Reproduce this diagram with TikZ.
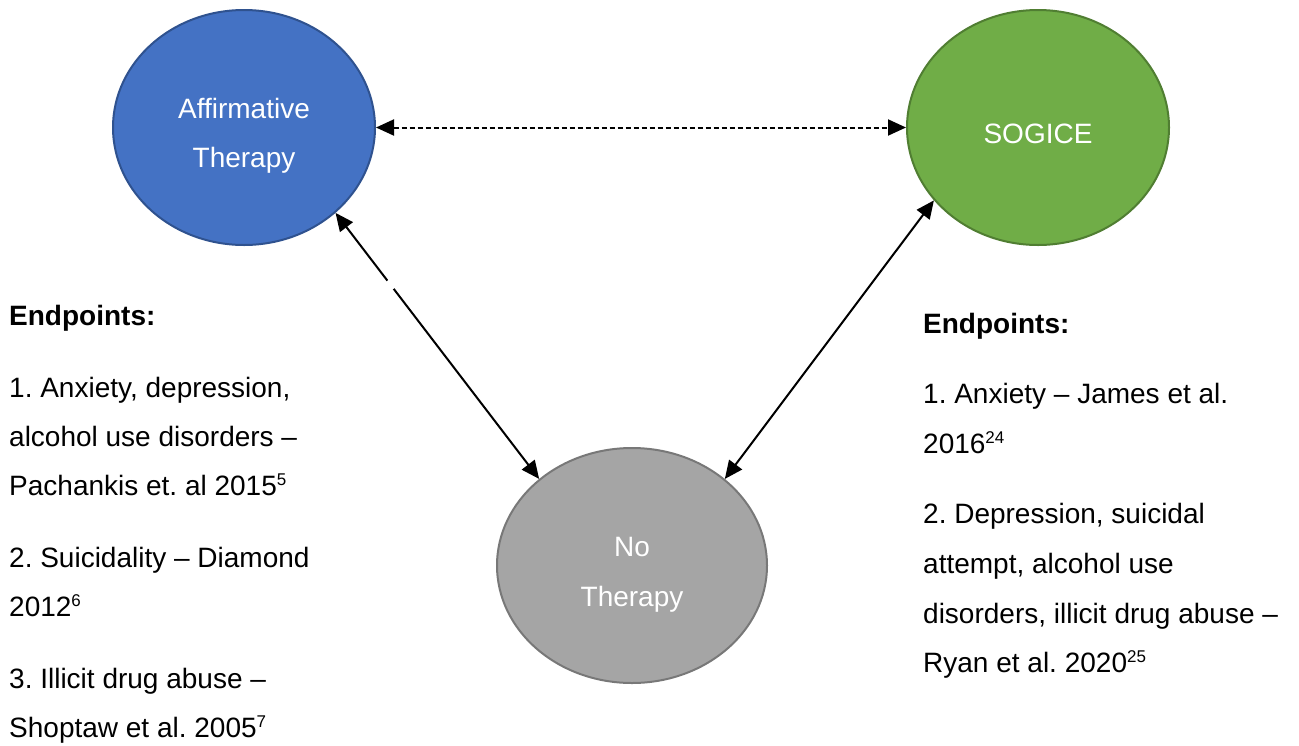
\documentclass[tikz,border=0pt]{standalone}
\usepackage{fontspec}
\setmainfont{Liberation Sans}
\usetikzlibrary{arrows.meta,shapes.geometric,calc}
\definecolor{affblue}{HTML}{4472C4}
\definecolor{affborder}{HTML}{2F528F}
\definecolor{soggreen}{HTML}{70AD47}
\definecolor{sogborder}{HTML}{507E32}
\definecolor{nogray}{HTML}{A5A5A5}
\definecolor{noborder}{HTML}{787878}
\frenchspacing
\tikzset{
  bubble/.style={ellipse, inner sep=0pt, line width=2pt, minimum width=262pt, minimum height=235pt},
  intext/.style={anchor=base, inner sep=0pt, text=white, font=\fontsize{28}{34}\selectfont},
  bodytext/.style={anchor=base west, inner sep=0pt, text=black, font=\fontsize{28}{34}\selectfont},
  headtext/.style={bodytext, font=\fontsize{28}{34}\selectfont\bfseries},
  link/.style={line width=2pt, {Triangle[length=18pt,width=16pt]}-{Triangle[length=18pt,width=16pt]}},
  dashlink/.style={link, dash pattern=on 5pt off 3pt}
}
\begin{document}
\begin{tikzpicture}[x=1pt, y=-1pt]
\useasboundingbox (0,0) rectangle (1299,745);
% ellipses
\node[bubble, fill=affblue, draw=affborder] (aff) at (244,127.5) {};
\node[bubble, fill=soggreen, draw=sogborder] (sog) at (1038,127.5) {};
\node[bubble, fill=nogray, draw=noborder, minimum width=270pt] (no) at (632,565.5) {};
% ellipse texts
\node[intext] (aff1) at (244,118) {Affirmative};
\node[intext] (aff2) at (244,167) {Therapy};
\node[intext] (sog1) at (1038,143) {SOGICE};
\node[intext] (no1) at (632,556) {No};
\node[intext] (no2) at (632,606) {Therapy};
% connectors
\draw[dashlink] (aff.east) -- (sog.west);
\draw[link] (aff.-43) -- (no.137);
\draw[link] (sog.215) -- (no.43);
\draw[white, line width=4pt] ($(aff.-43)!0.255!(no.137)$) -- ($(aff.-43)!0.285!(no.137)$);
% left text
\node[headtext] (lh) at (9,325) {Endpoints:};
\node[bodytext] (l1) at (9,397) {1. Anxiety, depression,};
\node[bodytext] (l2) at (9,446) {alcohol use disorders –};
\node[bodytext] (l3) at (9,495) {Pachankis et. al 2015\textsuperscript{\fontsize{17}{17}\selectfont 5}};
\node[bodytext] (l4) at (9,567) {2. Suicidality – Diamond};
\node[bodytext] (l5) at (9,616) {2012\textsuperscript{\fontsize{17}{17}\selectfont 6}};
\node[bodytext] (l6) at (9,688) {3. Illicit drug abuse –};
\node[bodytext] (l7) at (9,737) {Shoptaw et al. 2005\textsuperscript{\fontsize{17}{17}\selectfont 7}};
% right text
\node[headtext] (rh) at (923,333) {Endpoints:};
\node[bodytext] (r1) at (923,403) {1. Anxiety – James et al.};
\node[bodytext] (r2) at (923,453) {2016\textsuperscript{\fontsize{17}{17}\selectfont 24}};
\node[bodytext] (r3) at (923,523) {2. Depression, suicidal};
\node[bodytext] (r4) at (923,573) {attempt, alcohol use};
\node[bodytext] (r5) at (923,623) {disorders, illicit drug abuse –};
\node[bodytext] (r6) at (923,672) {Ryan et al. 2020\textsuperscript{\fontsize{17}{17}\selectfont 25}};
\end{tikzpicture}
\end{document}
